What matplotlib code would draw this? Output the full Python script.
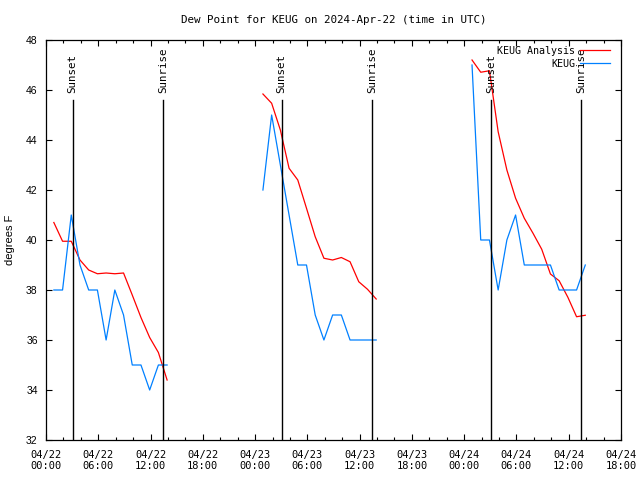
import numpy as np
import pandas as pd
import matplotlib
matplotlib.use('Agg')
import matplotlib.pyplot as plt
import matplotlib.dates as mdates
import matplotlib.transforms as mtransforms

# hourly observations (HH:54 UTC), three separate periods
period_starts = ['2024-04-22 00:54', '2024-04-23 00:54', '2024-04-24 00:54']

obs_1 = [38, 38, 41, 39, 38, 38, 36, 38, 37, 35, 35, 34, 35, 35]
obs_2 = [42, 45, 43, 41, 39, 39, 37, 36, 37, 37, 36, 36, 36, 36]
obs_3 = [47, 40, 40, 38, 40, 41, 39, 39, 39, 39, 38, 38, 38, 39]

ana_1 = [40.7, 39.95, 39.95, 39.2, 38.8, 38.65, 38.68, 38.65, 38.68, 37.8, 36.9, 36.1, 35.5, 34.4]
ana_2 = [45.84, 45.47, 44.4, 42.87, 42.4, 41.27, 40.13, 39.27, 39.2, 39.3, 39.13, 38.33, 38.03, 37.64]
ana_3 = [47.2, 46.71, 46.77, 44.33, 42.8, 41.67, 40.87, 40.27, 39.63, 38.64, 38.37, 37.71, 36.93, 36.99]

sunsets = ['2024-04-22 03:03', '2024-04-23 03:03', '2024-04-24 03:05']
sunrises = ['2024-04-22 13:25', '2024-04-23 13:24', '2024-04-24 13:23']

x_start = '2024-04-22 00:00'
x_end = '2024-04-24 18:00'

mono = 'DejaVu Sans Mono'
red = '#ff0000'
blue = '#0080ff'

fig = plt.figure(figsize=(6.4, 4.8), dpi=100)
ax = fig.add_axes([46 / 640, 40 / 480, 575 / 640, 400 / 480])

obs = [obs_1, obs_2, obs_3]
ana = [ana_1, ana_2, ana_3]
for i, start in enumerate(period_starts):
    t = pd.date_range(start, periods=len(obs[i]), freq='h')
    ax.plot(t, ana[i], color=red, lw=0.9, label='KEUG Analysis' if i == 0 else None)
    ax.plot(t, obs[i], color=blue, lw=0.9, label='KEUG' if i == 0 else None)

trans = mtransforms.blended_transform_factory(ax.transData, ax.transAxes)
for name, times in (('Sunset', sunsets), ('Sunrise', sunrises)):
    for s in times:
        ts = pd.Timestamp(s)
        ax.axvline(ts, ymin=0, ymax=0.85, color='black', lw=1)
        ax.text(ts, 0.868, name, rotation=90, ha='center', va='bottom',
                transform=trans, fontsize=7.8, family=mono)

ax.set_xlim(pd.Timestamp(x_start), pd.Timestamp(x_end))
ax.set_ylim(32, 48)
ax.set_yticks(np.arange(32, 49, 2))
ax.xaxis.set_major_locator(mdates.HourLocator(byhour=[0, 6, 12, 18]))
ax.xaxis.set_minor_locator(mdates.HourLocator(byhour=range(0, 24, 2)))
ax.xaxis.set_major_formatter(mdates.DateFormatter('%m/%d\n%H:%M'))

ax.tick_params(axis='x', which='major', direction='in', length=4.5, width=0.8,
               top=True, pad=7, labelsize=7.5)
ax.tick_params(axis='x', which='minor', direction='in', length=2.5, width=0.8, top=True)
ax.tick_params(axis='y', direction='in', length=4, width=0.8, right=True,
               labelsize=7.5, pad=6)
for lab in ax.get_xticklabels():
    lab.set_family(mono)
for lab in ax.get_yticklabels():
    lab.set_family('Liberation Sans')
for sp in ax.spines.values():
    sp.set_linewidth(0.9)

ax.set_ylabel('degrees F', family='Liberation Sans', fontsize=8, labelpad=8)
ax.set_title('Dew Point for KEUG on 2024-Apr-22 (time in UTC)', family=mono,
             fontsize=7.8, pad=12)

ax.legend(loc='upper right', bbox_to_anchor=(0.988, 0.995), frameon=False,
          markerfirst=False, prop={'family': mono, 'size': 7.2},
          handlelength=3.0, handletextpad=0.5, labelspacing=0.3, borderaxespad=0)

fig.savefig('out.png', dpi=100)
